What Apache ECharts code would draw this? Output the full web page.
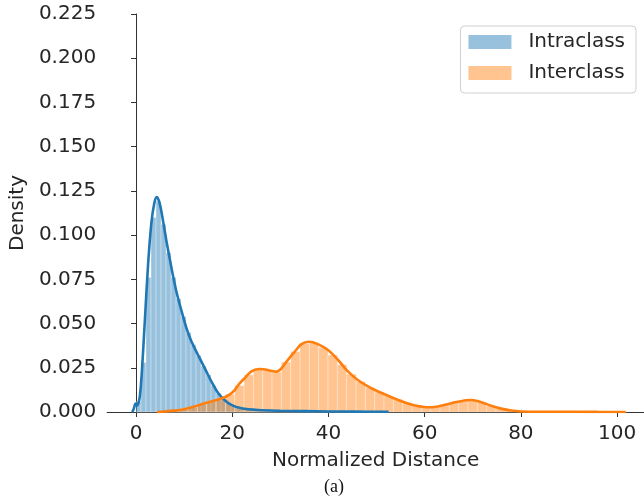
<!doctype html>
<html lang="en">
<head>
    <meta charset="UTF-8">
    <title>Normalized Distance</title>
    <style>
        html, body { margin: 0; padding: 0; background: #fff; }
        #chart { width: 644px; height: 499px; }
    </style>
</head>
<body>
    <div id="chart"></div>

    <script src="https://cdn.jsdelivr.net/npm/echarts@6/dist/echarts.min.js"></script>
    <script>
        // histogram bins (start, width, heights)
        var intraStart = 0, intraWidth = 1.04;
        var intraHeights = [0.006, 0.028, 0.076, 0.110, 0.119, 0.106, 0.090, 0.076, 0.064, 0.054,
            0.045, 0.038, 0.032, 0.026, 0.021, 0.015, 0.0105, 0.0074, 0.005, 0.0033,
            0.0024, 0.0018, 0.0014, 0.0011, 0.0009, 0.0008, 0.0007, 0.0007, 0.0006, 0.0006,
            0.0005, 0.0005, 0.0004, 0.0004, 0.0004, 0.0003, 0.0003, 0.0003, 0.0003, 0.0002,
            0.0002, 0.0002, 0.0002, 0.0002, 0.0001, 0.0001, 0.0001, 0.0001, 0.0001, 0.0001];

        var interStart = 5, interWidth = 1.94;
        var interHeights = [0.0003, 0.0008, 0.0015, 0.0027, 0.0044, 0.0060, 0.0075, 0.0100, 0.0150, 0.0210,
            0.0243, 0.0238, 0.0226, 0.0282, 0.0342, 0.0388, 0.0390, 0.0365, 0.0322, 0.0268,
            0.0214, 0.0172, 0.0138, 0.0112, 0.0090, 0.0071, 0.0054, 0.0038, 0.0028, 0.0029,
            0.0040, 0.0054, 0.0064, 0.0067, 0.0054, 0.0035, 0.0019, 0.0009, 0.0004, 0.0002,
            0.0001, 0.0001, 0.0001, 0.0001, 0.0001, 0.0001, 0.0001, 0.0001, 0.0001, 0.0001];

        // kde curves [x, density]
        var intraKde = [[-0.8, 0], [-0.5, 0.0015], [-0.1, 0.0048], [0.2, 0.0036], [0.5, 0.005], [0.8, 0.009],
            [1.2, 0.022], [1.8, 0.050], [2.5, 0.083], [3.2, 0.107], [3.8, 0.118], [4.3, 0.1215],
            [4.8, 0.119], [5.3, 0.113], [6.3, 0.097], [7.4, 0.081], [8.4, 0.068], [9.5, 0.0567],
            [10.5, 0.0473], [11.5, 0.040], [12.9, 0.0322], [14.3, 0.0247], [15.7, 0.0171],
            [17.1, 0.0106], [18.4, 0.0068], [19.8, 0.0040], [21.9, 0.0021], [25.4, 0.0011],
            [30, 0.0007], [35, 0.0005], [40, 0.0003], [45, 0.0002], [52.5, 0.0001]];

        var interKde = [[4.4, 0], [6, 0.0003], [8, 0.0008], [10, 0.0016], [12, 0.0029], [14, 0.0047],
            [16, 0.0062], [18, 0.0079], [19.5, 0.0100], [20.5, 0.0124], [21.5, 0.0160], [22.6, 0.0192],
            [24, 0.0230], [25.5, 0.0243], [26.5, 0.0242], [28, 0.0233], [29.2, 0.0228], [30, 0.0240],
            [31, 0.0275], [33, 0.0341], [34.4, 0.0384], [35.9, 0.0397], [37.8, 0.0384], [39.9, 0.0350],
            [42, 0.0294], [44.1, 0.0228], [46.1, 0.0181], [48.2, 0.0145], [50, 0.0120], [52, 0.0096],
            [54.1, 0.0072], [56.2, 0.0051], [58.3, 0.0035], [60.3, 0.0027], [62.4, 0.0030], [64.5, 0.0043],
            [66.6, 0.0056], [68.6, 0.0066], [69.8, 0.0068], [71.8, 0.0055], [73.8, 0.0035], [75.9, 0.0019],
            [78, 0.0008], [80, 0.0003], [84, 0.0001], [90, 0.0001], [96, 0.00005], [101.8, 0]];

        var xTicks = [0, 20, 40, 60, 80, 100];

        var blueFill = 'rgba(31,119,180,0.46)';
        var orangeFill = 'rgba(255,127,14,0.46)';
        var textColor = '#262626';
        var font = 'DejaVu Sans';

        function bins(start, width, heights) {
            return heights.map(function (h, i) {
                return [start + i * width, start + (i + 1) * width, h];
            });
        }

        function histItem(fill) {
            return function (params, api) {
                var p0 = api.coord([api.value(0), api.value(2)]);
                var p1 = api.coord([api.value(1), 0]);
                return {
                    type: 'rect',
                    shape: { x: p0[0], y: p0[1], width: p1[0] - p0[0], height: p1[1] - p0[1] },
                    style: { fill: fill, stroke: 'rgba(255,255,255,0.4)', lineWidth: 0.8 }
                };
            };
        }

        var myChart = echarts.init(document.getElementById('chart'));

        var option = {
            animation: false,
            backgroundColor: '#fff',
            grid: { left: 105, right: 0, top: 14, bottom: 87 },
            legend: {
                right: 8,
                top: 26,
                orient: 'vertical',
                data: [
                    { name: 'Intraclass', icon: 'rect', itemStyle: { color: blueFill } },
                    { name: 'Interclass', icon: 'rect', itemStyle: { color: orangeFill } }
                ],
                itemWidth: 43,
                itemHeight: 14,
                itemGap: 11,
                padding: [6, 11, 10, 8],
                backgroundColor: '#fff',
                borderColor: '#d0d0d0',
                borderWidth: 1,
                borderRadius: 4,
                selectedMode: false,
                textStyle: { fontFamily: font, fontSize: 20, color: textColor, lineHeight: 20, padding: [0, 0, 0, 12] }
            },
            xAxis: {
                type: 'value',
                min: -6,
                max: 105.6,
                name: 'Normalized Distance',
                nameLocation: 'middle',
                nameGap: 39,
                nameTextStyle: { fontFamily: font, fontSize: 20, color: textColor },
                axisLine: { lineStyle: { color: '#333', width: 1 } },
                axisTick: { show: true, length: 5, lineStyle: { color: '#333' }, customValues: xTicks },
                axisLabel: { fontFamily: font, fontSize: 20, color: textColor, margin: 12, customValues: xTicks },
                splitLine: { show: false }
            },
            yAxis: {
                type: 'value',
                min: 0,
                max: 0.225,
                interval: 0.025,
                name: 'Density',
                nameLocation: 'middle',
                nameGap: 77,
                nameTextStyle: { fontFamily: font, fontSize: 20, color: textColor },
                axisLine: { show: true, lineStyle: { color: '#333', width: 1 } },
                axisTick: { show: true, length: 5, lineStyle: { color: '#333' } },
                axisLabel: {
                    fontFamily: font, fontSize: 20, color: textColor, margin: 11,
                    formatter: function (v) { return v.toFixed(3); }
                },
                splitLine: { show: false }
            },
            graphic: [{
                type: 'text',
                left: 324,
                top: 478,
                style: { text: '(a)', font: '18px "Liberation Serif"', fill: '#111' }
            }],
            series: [
                {
                    name: 'Intraclass',
                    type: 'custom',
                    renderItem: histItem(blueFill),
                    itemStyle: { color: blueFill },
                    encode: { x: [0, 1], y: 2 },
                    data: bins(intraStart, intraWidth, intraHeights),
                    z: 1
                },
                {
                    name: 'Interclass',
                    type: 'custom',
                    renderItem: histItem(orangeFill),
                    itemStyle: { color: orangeFill },
                    encode: { x: [0, 1], y: 2 },
                    data: bins(interStart, interWidth, interHeights),
                    z: 2
                },
                {
                    name: 'intraKde',
                    type: 'line',
                    data: intraKde,
                    smooth: 0.3,
                    showSymbol: false,
                    lineStyle: { color: '#1f77b4', width: 2.6 },
                    z: 3
                },
                {
                    name: 'interKde',
                    type: 'line',
                    data: interKde,
                    smooth: 0.3,
                    showSymbol: false,
                    lineStyle: { color: '#ff7f0e', width: 2.6 },
                    z: 4
                }
            ]
        };

        myChart.setOption(option);
    </script>
</body>
</html>
